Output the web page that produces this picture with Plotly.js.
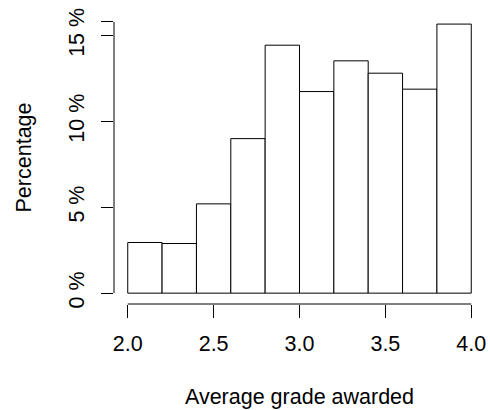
<!DOCTYPE html>
<html>
<head>
<meta charset="utf-8">
<script src="https://cdn.plot.ly/plotly-3.0.1.min.js"></script>
<style>
html, body { margin: 0; padding: 0; background: #ffffff; }
#chart { width: 490px; height: 410px; }
</style>
</head>
<body>
<div id="chart"></div>
<script>
// Histogram bins (grade edges) and the share of courses in each bin (%)
var binEdges = [2.0, 2.2, 2.4, 2.6, 2.8, 3.0, 3.2, 3.4, 3.6, 3.8, 4.0];
var percentages = [2.95, 2.89, 5.20, 9.00, 14.44, 11.74, 13.53, 12.81, 11.88, 15.67];

// Axis ticks
var xTickVals = [2.0, 2.5, 3.0, 3.5, 4.0];
var xTickText = ["2.0", "2.5", "3.0", "3.5", "4.0"];
var yTickVals = [0, 5, 10, 15, 15.8];
var yTickText = ["0 %", "5 %", "10 %", "15 %", ""];

var xTitle = "Average grade awarded";
var yTitle = "Percentage";

var centers = [], widths = [];
for (var i = 0; i < percentages.length; i++) {
  centers.push((binEdges[i] + binEdges[i + 1]) / 2);
  widths.push(binEdges[i + 1] - binEdges[i]);
}

var font = { family: "Liberation Sans, Arial, sans-serif", size: 21.5, color: "#000000" };

var trace = {
  type: "bar",
  x: centers,
  y: percentages,
  width: widths,
  marker: { color: "#ffffff", line: { color: "#000000", width: 1 } },
  hoverinfo: "skip"
};

var xMin = xTickVals[0], xMax = xTickVals[xTickVals.length - 1];
var yMin = yTickVals[0], yMax = yTickVals[yTickVals.length - 1];
var xPad = (xMax - xMin) * 0.04, yPad = (yMax - yMin) * 0.04;

var layout = {
  width: 490,
  height: 410,
  margin: { l: 114, r: 5, t: 11, b: 106 },
  paper_bgcolor: "#ffffff",
  plot_bgcolor: "#ffffff",
  font: font,
  showlegend: false,
  bargap: 0,
  xaxis: {
    range: [xMin - xPad, xMax + xPad],
    tickmode: "array",
    tickvals: xTickVals,
    ticktext: xTickText,
    ticks: "outside",
    ticklen: 12.5,
    tickwidth: 1,
    tickcolor: "#000000",
    showline: false,
    showgrid: false,
    zeroline: false,
    ticklabelstandoff: 8,
    tickfont: font,
    title: { text: xTitle, font: font, standoff: 33 }
  },
  yaxis: {
    range: [yMin - yPad, yMax + yPad],
    tickmode: "array",
    tickvals: yTickVals,
    ticktext: yTickText,
    tickangle: -90,
    ticks: "outside",
    ticklen: 12.5,
    tickwidth: 1,
    tickcolor: "#000000",
    showline: false,
    showgrid: false,
    zeroline: false,
    ticklabelstandoff: 8,
    tickfont: font,
    title: { text: yTitle, font: font, standoff: 27 }
  },
  shapes: [
    { type: "line", xref: "x", yref: "paper", x0: xMin, x1: xMax, y0: 0, y1: 0,
      line: { color: "#000000", width: 1 } },
    { type: "line", xref: "paper", yref: "y", x0: 0, x1: 0, y0: yMin, y1: yMax,
      line: { color: "#000000", width: 1 } }
  ]
};

Plotly.newPlot("chart", [trace], layout, { displayModeBar: false, staticPlot: true });
</script>
</body>
</html>
